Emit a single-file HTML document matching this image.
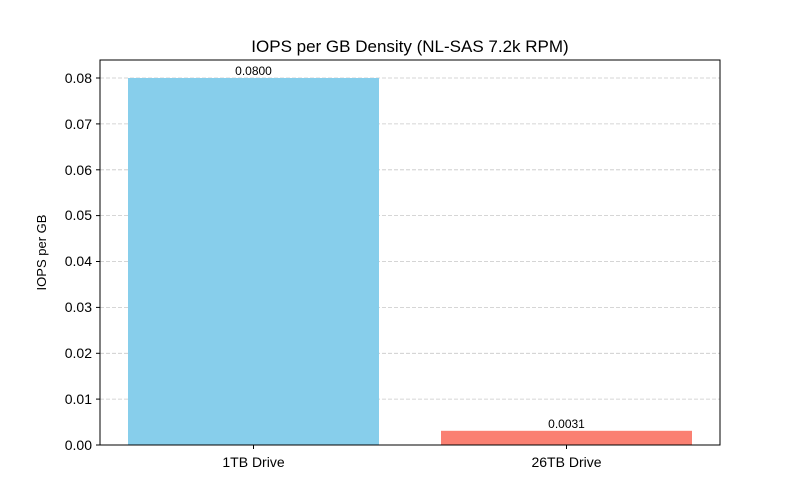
<!DOCTYPE html>
<html><head><meta charset="utf-8"><style>body{margin:0;background:#fff}svg{display:block}</style></head><body>
<svg width="800" height="500" xmlns="http://www.w3.org/2000/svg" font-family="Liberation Sans, DejaVu Sans, sans-serif">
<rect width="800" height="500" fill="#fff"/>
<g stroke="#c8c8c8" stroke-dasharray="4,2" stroke-width="0.8">
<line x1="100" x2="720" y1="399.1" y2="399.1"/>
<line x1="100" x2="720" y1="353.3" y2="353.3"/>
<line x1="100" x2="720" y1="307.4" y2="307.4"/>
<line x1="100" x2="720" y1="261.5" y2="261.5"/>
<line x1="100" x2="720" y1="215.6" y2="215.6"/>
<line x1="100" x2="720" y1="169.8" y2="169.8"/>
<line x1="100" x2="720" y1="123.9" y2="123.9"/>
<line x1="100" x2="720" y1="78" y2="78"/>
</g>
<rect x="128" y="78" width="251" height="367" fill="#87ceeb"/>
<rect x="441" y="430.8" width="251" height="14.2" fill="#fa8072"/>
<rect x="100" y="60" width="620" height="385" fill="none" stroke="#000" stroke-width="1"/>
<g stroke="#000"><line x1="96" x2="100" y1="445" y2="445"/><line x1="96" x2="100" y1="399.1" y2="399.1"/><line x1="96" x2="100" y1="353.3" y2="353.3"/><line x1="96" x2="100" y1="307.4" y2="307.4"/><line x1="96" x2="100" y1="261.5" y2="261.5"/><line x1="96" x2="100" y1="215.6" y2="215.6"/><line x1="96" x2="100" y1="169.8" y2="169.8"/><line x1="96" x2="100" y1="123.9" y2="123.9"/><line x1="96" x2="100" y1="78" y2="78"/>
<line x1="253.5" x2="253.5" y1="445" y2="449"/><line x1="566.5" x2="566.5" y1="445" y2="449"/></g>
<g font-size="14" text-anchor="end" fill="#000">
<text x="92" y="450">0.00</text><text x="92" y="404">0.01</text><text x="92" y="358">0.02</text><text x="92" y="312">0.03</text><text x="92" y="266">0.04</text><text x="92" y="220">0.05</text><text x="92" y="175">0.06</text><text x="92" y="129">0.07</text><text x="92" y="83">0.08</text>
</g>
<g font-size="14" text-anchor="middle">
<text x="253.5" y="467">1TB Drive</text><text x="566.5" y="467">26TB Drive</text>
</g>
<g font-size="12" text-anchor="middle">
<text x="253.5" y="75">0.0800</text><text x="566.5" y="428">0.0031</text>
</g>
<text x="46" y="252.5" font-size="13" text-anchor="middle" transform="rotate(-90 46 252.5)">IOPS per GB</text>
<text x="410" y="52" font-size="17" text-anchor="middle">IOPS per GB Density (NL-SAS 7.2k RPM)</text>
</svg>
</body></html>
